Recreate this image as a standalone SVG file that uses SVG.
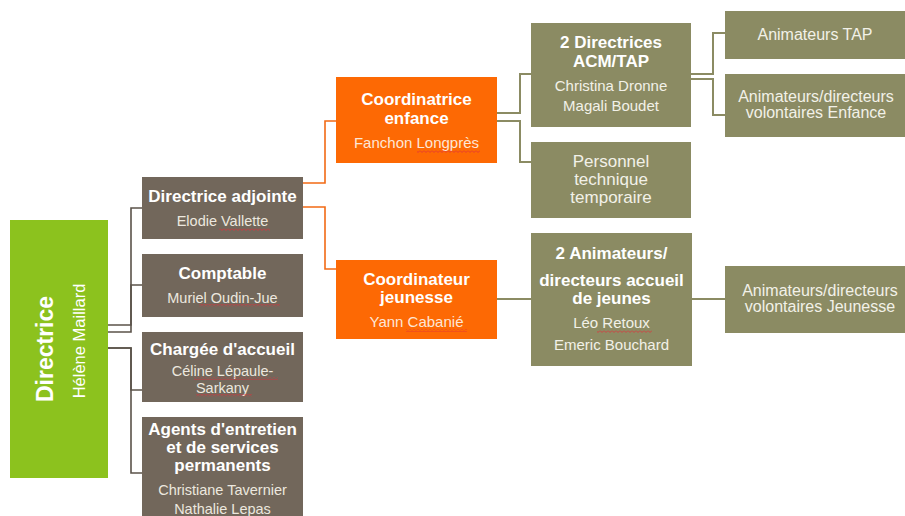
<svg xmlns="http://www.w3.org/2000/svg" width="905" height="516" viewBox="0 0 905 516">
<style>
text{font-family:"Liberation Sans",Arial,sans-serif;text-anchor:middle}
.b{font-weight:bold;fill:#ffffff;font-size:17px}
.s{fill:#ece7df;font-size:14.5px}
.so{fill:#f2f1e8;font-size:15px}
.big{font-size:17px}
.mid{font-size:16px}
.brown{fill:#72675b}
.olive{fill:#8b8b63}
.orange{fill:#fd6904}
.green{fill:#8cc21e}
.cb{fill:none;stroke:#5b534a;stroke-width:1.6}
.co{fill:none;stroke:#f26a14;stroke-width:1.6}
.cv{fill:none;stroke:#8b8b63;stroke-width:2}
.sq{fill:url(#squig)}
</style>
<defs>
<pattern id="squig" x="0" y="0" width="4" height="3" patternUnits="userSpaceOnUse">
<path d="M0,0.5 L2,2.5 L4,0.5" fill="none" stroke="#e0303a" stroke-width="0.8"/>
</pattern>
</defs>
<rect width="905" height="516" fill="#ffffff"/>

<g id="connectors">
<path class="cb" d="M108,325 H131 V208 H142"/>
<path class="cb" d="M108,332 H131 V285 H142"/>
<path class="cb" d="M108,348 H131 V390 H142"/>
<path class="cb" d="M108,348 H131 V473 H142"/>
<path class="co" d="M303,183 H325 V121 H336"/>
<path class="co" d="M303,207 H325 V269 H336"/>
<path class="cv" d="M497,113 H520 V74 H531"/>
<path class="cv" d="M497,121 H520 V162 H531"/>
<path class="cv" d="M691,74 H713 V33 H725"/>
<path class="cv" d="M691,79 H713 V115 H725"/>
<path class="cv" d="M497,299 H531"/>
<path class="cv" d="M692,299 H725"/>
</g>

<g id="directrice">
<rect class="green" x="10" y="220" width="98" height="258"/>
<text class="b" style="font-size:23px" transform="translate(53,349) rotate(-90)">Directrice</text>
<text style="fill:#ffffff;font-size:16.5px" transform="translate(85,341) rotate(-90)">Hélène Maillard</text>
</g>

<g id="directrice-adjointe">
<rect class="brown" x="142" y="177" width="161" height="62"/>
<text class="b" x="222.5" y="202">Directrice adjointe</text>
<text class="s" x="222.5" y="226">Elodie Vallette</text>
<rect class="sq" x="219" y="228" width="51" height="3"/>
</g>

<g id="comptable">
<rect class="brown" x="142" y="254" width="161" height="63"/>
<text class="b" x="222.5" y="279">Comptable</text>
<text class="s" x="222.5" y="303">Muriel Oudin-Jue</text>
<rect class="sq" x="199" y="304" width="81" height="3"/>
</g>

<g id="chargee-accueil">
<rect class="brown" x="142" y="332" width="161" height="70"/>
<text class="b" x="222.5" y="355">Chargée d'accueil</text>
<text class="s" x="222.5" y="376">Céline Lépaule-</text>
<text class="s" x="222.5" y="393">Sarkany</text>
<rect class="sq" x="194" y="377" width="84" height="3"/>
<rect class="sq" x="196" y="394" width="56" height="3"/>
</g>

<g id="agents-entretien">
<rect class="brown" x="142" y="417" width="161" height="105"/>
<text class="b" x="222.5" y="435">Agents d'entretien</text>
<text class="b" x="222.5" y="453">et de services</text>
<text class="b" x="222.5" y="471">permanents</text>
<text class="s" x="222.5" y="495">Christiane Tavernier</text>
<text class="s" x="222.5" y="514">Nathalie Lepas</text>
</g>

<g id="coordinatrice-enfance">
<rect class="orange" x="336" y="77" width="161" height="86"/>
<text class="b" x="416.5" y="105">Coordinatrice</text>
<text class="b" x="416.5" y="124">enfance</text>
<text style="fill:#fde6d6;font-size:15px" x="416.5" y="148">Fanchon Longprès</text>
<rect class="sq" x="417" y="150" width="63" height="3"/>
</g>

<g id="coordinateur-jeunesse">
<rect class="orange" x="336" y="260" width="161" height="79"/>
<text class="b" x="416.5" y="285">Coordinateur</text>
<text class="b" x="416.5" y="303">jeunesse</text>
<text style="fill:#fde6d6;font-size:15px" x="416.5" y="327">Yann Cabanié</text>
<rect class="sq" x="406" y="329" width="61" height="3"/>
</g>

<g id="directrices-acm-tap">
<rect class="olive" x="531" y="23" width="160" height="104"/>
<text class="b" x="611" y="48">2 Directrices</text>
<text class="b" x="611" y="67">ACM/TAP</text>
<text class="so" x="611" y="91">Christina Dronne</text>
<text class="so" x="611" y="111">Magali Boudet</text>
</g>

<g id="personnel-technique">
<rect class="olive" x="531" y="142" width="160" height="76"/>
<text class="so big" x="611" y="167">Personnel</text>
<text class="so big" x="611" y="185">technique</text>
<text class="so big" x="611" y="203">temporaire</text>
</g>

<g id="animateurs-tap">
<rect class="olive" x="725" y="11" width="185" height="48"/>
<text class="so mid" x="815" y="40">Animateurs TAP</text>
</g>

<g id="animateurs-enfance">
<rect class="olive" x="725" y="74" width="185" height="63"/>
<text class="so mid" x="816" y="102">Animateurs/directeurs</text>
<text class="so mid" x="816" y="118">volontaires Enfance</text>
</g>

<g id="animateurs-jeunes">
<rect class="olive" x="531" y="233" width="161" height="133"/>
<text class="b" x="611.5" y="259">2 Animateurs/</text>
<text class="b" x="611.5" y="286">directeurs accueil</text>
<text class="b" x="611.5" y="304">de jeunes</text>
<text class="so" x="611.5" y="328">Léo Retoux</text>
<text class="so" x="611.5" y="350">Emeric Bouchard</text>
<rect class="sq" x="597" y="330" width="55" height="3"/>
</g>

<g id="animateurs-jeunesse">
<rect class="olive" x="725" y="266" width="185" height="67"/>
<text class="so mid" x="820" y="296">Animateurs/directeurs</text>
<text class="so mid" x="820" y="312">volontaires Jeunesse</text>
</g>
</svg>
